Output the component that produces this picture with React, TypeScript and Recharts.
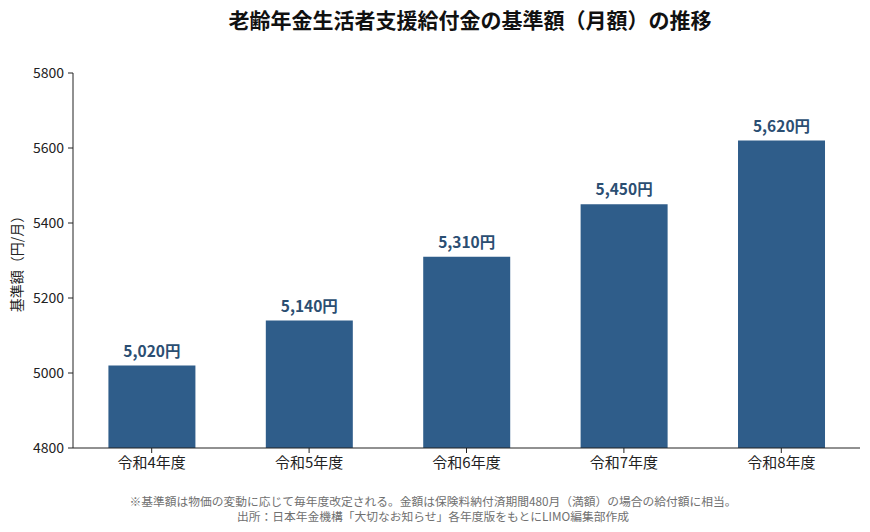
import React from 'react';
import { BarChart, Bar, XAxis, YAxis, LabelList } from 'recharts';

const categories = ['令和4年度', '令和5年度', '令和6年度', '令和7年度', '令和8年度'];
const amounts = [5020, 5140, 5310, 5450, 5620];
const yTicks = [4800, 5000, 5200, 5400, 5600, 5800];

const data = categories.map((c, i) => ({ name: c, value: amounts[i] }));

const FONT = '"Noto Sans CJK JP", "Noto Sans", sans-serif';
const BAR = '#2F5D8A';
const LABEL = '#2B4E72';

export default function App() {
  return (
    <div style={{ position: 'absolute', left: 0, top: 0, width: 870, height: 532, background: '#fff', fontFamily: FONT }}>
      <div style={{ position: 'absolute', left: 0, width: 940, top: 4, textAlign: 'center', fontSize: 21, fontWeight: 700, color: '#111', lineHeight: '30px' }}>
        老齢年金生活者支援給付金の基準額（月額）の推移
      </div>
      <BarChart
        width={870}
        height={532}
        data={data}
        margin={{ top: 73, right: 10, bottom: 54, left: 0 }}
        barCategoryGap="22.5%"
      >
        <XAxis
          dataKey="name"
          axisLine={{ stroke: '#222' }}
          tickLine={{ stroke: '#222' }}
          tickSize={5}
          tickMargin={4}
          height={30}
          tick={{ fill: '#222', fontSize: 15, fontFamily: FONT }}
        />
        <YAxis
          width={73}
          domain={[4800, 5800]}
          ticks={yTicks}
          allowDataOverflow
          axisLine={{ stroke: '#222' }}
          tickLine={{ stroke: '#222' }}
          tickSize={5}
          tickMargin={4}
          tick={{ fill: '#222', fontSize: 14, fontFamily: FONT }}
          label={{ value: '基準額（円/月）', angle: -90, position: 'insideLeft', offset: 17, style: { textAnchor: 'middle', fill: '#222', fontSize: 14, fontFamily: FONT } }}
        />
        <Bar dataKey="value" fill={BAR} isAnimationActive={false}>
          <LabelList
            dataKey="value"
            position="top"
            offset={9}
            formatter={(v: number) => `${v.toLocaleString('en-US')}円`}
            style={{ fill: LABEL, fontSize: 15.5, fontWeight: 700, fontFamily: FONT }}
          />
        </Bar>
      </BarChart>
      <div style={{ position: 'absolute', left: 0, width: 866, top: 493, textAlign: 'center', fontSize: 11.75, color: '#707070', lineHeight: '15px' }}>
        <div>※基準額は物価の変動に応じて毎年度改定される。金額は保険料納付済期間480月（満額）の場合の給付額に相当。</div>
        <div>出所：日本年金機構「大切なお知らせ」各年度版をもとにLIMO編集部作成</div>
      </div>
    </div>
  );
}
